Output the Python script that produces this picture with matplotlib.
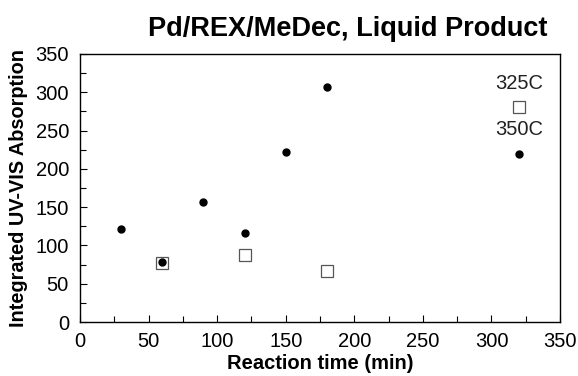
import matplotlib
matplotlib.use('Agg')
import matplotlib.pyplot as plt
from matplotlib.ticker import MultipleLocator

plt.rcParams['font.family'] = ['Liberation Sans', 'DejaVu Sans']

# reaction time (min) vs integrated UV-VIS absorption
time_350 = [30, 60, 90, 120, 150, 180, 320]
abs_350 = [122, 78, 157, 116, 222, 307, 220]
time_325 = [60, 120, 180, 320]
abs_325 = [77, 87, 67, 281]

fig = plt.figure(figsize=(5.78, 3.76), dpi=100)
ax = fig.add_axes([0.1384, 0.1436, 0.8306, 0.7128])

ax.plot(time_325, abs_325, 's', ms=8.5, mfc='white', mec='#555555', mew=0.9, ls='none')
ax.plot(time_350, abs_350, 'o', ms=5, color='black', ls='none')

ax.text(320, 311, '325C', ha='center', va='center', fontsize=14.5, color='#222222')
ax.text(320, 251, '350C', ha='center', va='center', fontsize=14.5, color='#222222')

ax.set_xlim(0, 350)
ax.set_ylim(0, 350)
ax.xaxis.set_major_locator(MultipleLocator(50))
ax.xaxis.set_minor_locator(MultipleLocator(25))
ax.yaxis.set_major_locator(MultipleLocator(50))
ax.yaxis.set_minor_locator(MultipleLocator(25))
ax.tick_params(which='both', direction='in', labelsize=14.5)
ax.tick_params(which='major', length=5, width=0.8)
ax.tick_params(which='minor', length=4, width=0.8)
ax.tick_params(axis='y', pad=8)
ax.tick_params(axis='x', pad=7)
for s in ax.spines.values():
    s.set_linewidth(1.0)

ax.set_xlabel('Reaction time (min)', fontsize=14.5, fontweight='bold', labelpad=2)
ax.set_ylabel('Integrated UV-VIS Absorption', fontsize=14.3, fontweight='bold', labelpad=5)
ax.set_title('Pd/REX/MeDec, Liquid Product', fontsize=19.5, fontweight='bold', pad=13, x=0.558)

fig.savefig('out.png', dpi=100)
